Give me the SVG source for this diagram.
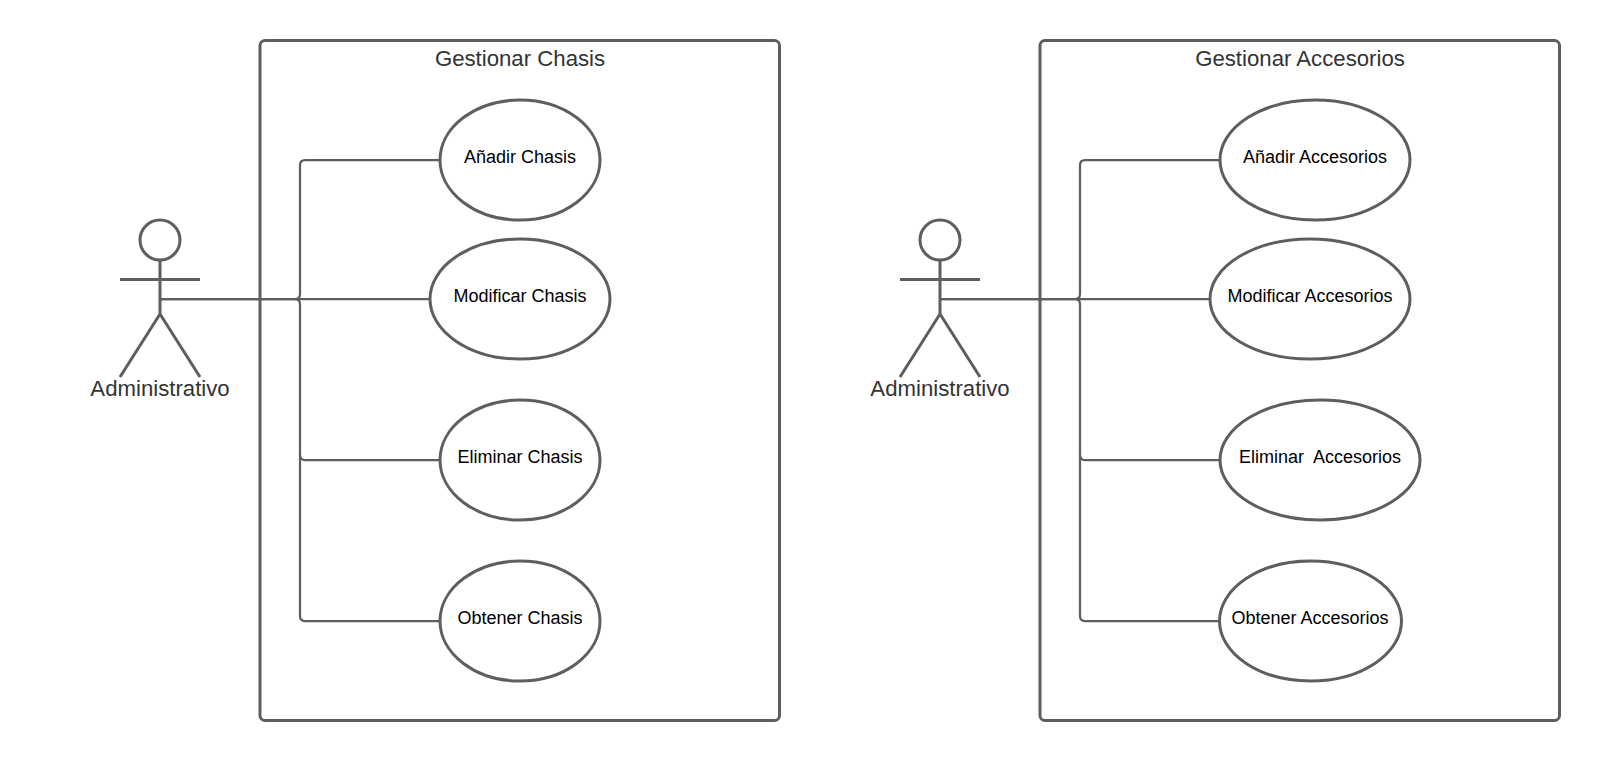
<svg xmlns="http://www.w3.org/2000/svg" width="1600" height="760" viewBox="0 0 1600 760">
<style>
.b{fill:#fff;stroke:#5e5e5e;stroke-width:3}
.a{fill:none;stroke:#5e5e5e;stroke-width:3}
.c{fill:none;stroke:#5e5e5e;stroke-width:2.250}
text{font-family:"Liberation Sans",Arial,sans-serif;text-anchor:middle}
.t{font-size:22.200px;fill:#333}
.l{font-size:18px;fill:#000}
</style>
<rect width="1600" height="760" fill="#fff"/>
<g id="boundary-chasis"><rect class="b" x="260" y="40.500" width="519.500" height="680" rx="5"/><text class="t" x="520" y="66">Gestionar Chasis</text></g>
<g id="boundary-accesorios"><rect class="b" x="1040" y="40.500" width="519.500" height="680" rx="5"/><text class="t" x="1300" y="66">Gestionar Accesorios</text></g>
<g id="connectors">
<path class="c" d="M161 299H295Q300 299 300 294V165Q300 160 305 160H440"/>
<path class="c" d="M161 299H430"/>
<path class="c" d="M295 299Q300 299 300 304V455Q300 460 305 460H440"/>
<path class="c" d="M300 455V616Q300 621 305 621H440"/>
<path class="c" d="M941 299H1075Q1080 299 1080 294V165Q1080 160 1085 160H1220"/>
<path class="c" d="M941 299H1210"/>
<path class="c" d="M1075 299Q1080 299 1080 304V455Q1080 460 1085 460H1220"/>
<path class="c" d="M1080 455V616Q1080 621 1085 621H1220"/>
</g>
<g id="actor-1"><circle class="a" cx="160" cy="240" r="20"/><path class="a" d="M160 260V314M120 279.500H200M120 377L160 314L200 377"/><text class="t" x="160" y="396">Administrativo</text></g>
<g id="actor-2"><circle class="a" cx="940" cy="240" r="20"/><path class="a" d="M940 260V314M900 279.500H980M900 377L940 314L980 377"/><text class="t" x="940" y="396">Administrativo</text></g>
<g id="uc-anadir-chasis"><ellipse class="b" cx="520" cy="160" rx="80" ry="60"/><text class="l" x="520" y="162.500">Añadir Chasis</text></g>
<g id="uc-modificar-chasis"><ellipse class="b" cx="520" cy="299" rx="90" ry="60"/><text class="l" x="520" y="301.500">Modificar Chasis</text></g>
<g id="uc-eliminar-chasis"><ellipse class="b" cx="520" cy="460" rx="80" ry="60"/><text class="l" x="520" y="462.500">Eliminar Chasis</text></g>
<g id="uc-obtener-chasis"><ellipse class="b" cx="520" cy="621" rx="80" ry="60"/><text class="l" x="520" y="623.500">Obtener Chasis</text></g>
<g id="uc-anadir-accesorios"><ellipse class="b" cx="1315" cy="160" rx="95" ry="60"/><text class="l" x="1315" y="162.500">Añadir Accesorios</text></g>
<g id="uc-modificar-accesorios"><ellipse class="b" cx="1310" cy="299" rx="100" ry="60"/><text class="l" x="1310" y="301.500">Modificar Accesorios</text></g>
<g id="uc-eliminar-accesorios"><ellipse class="b" cx="1320" cy="460" rx="100" ry="60"/><text class="l" x="1320" y="462.500" xml:space="preserve">Eliminar  Accesorios</text></g>
<g id="uc-obtener-accesorios"><ellipse class="b" cx="1310.500" cy="621" rx="91" ry="60"/><text class="l" x="1310" y="623.500">Obtener Accesorios</text></g>
</svg>
